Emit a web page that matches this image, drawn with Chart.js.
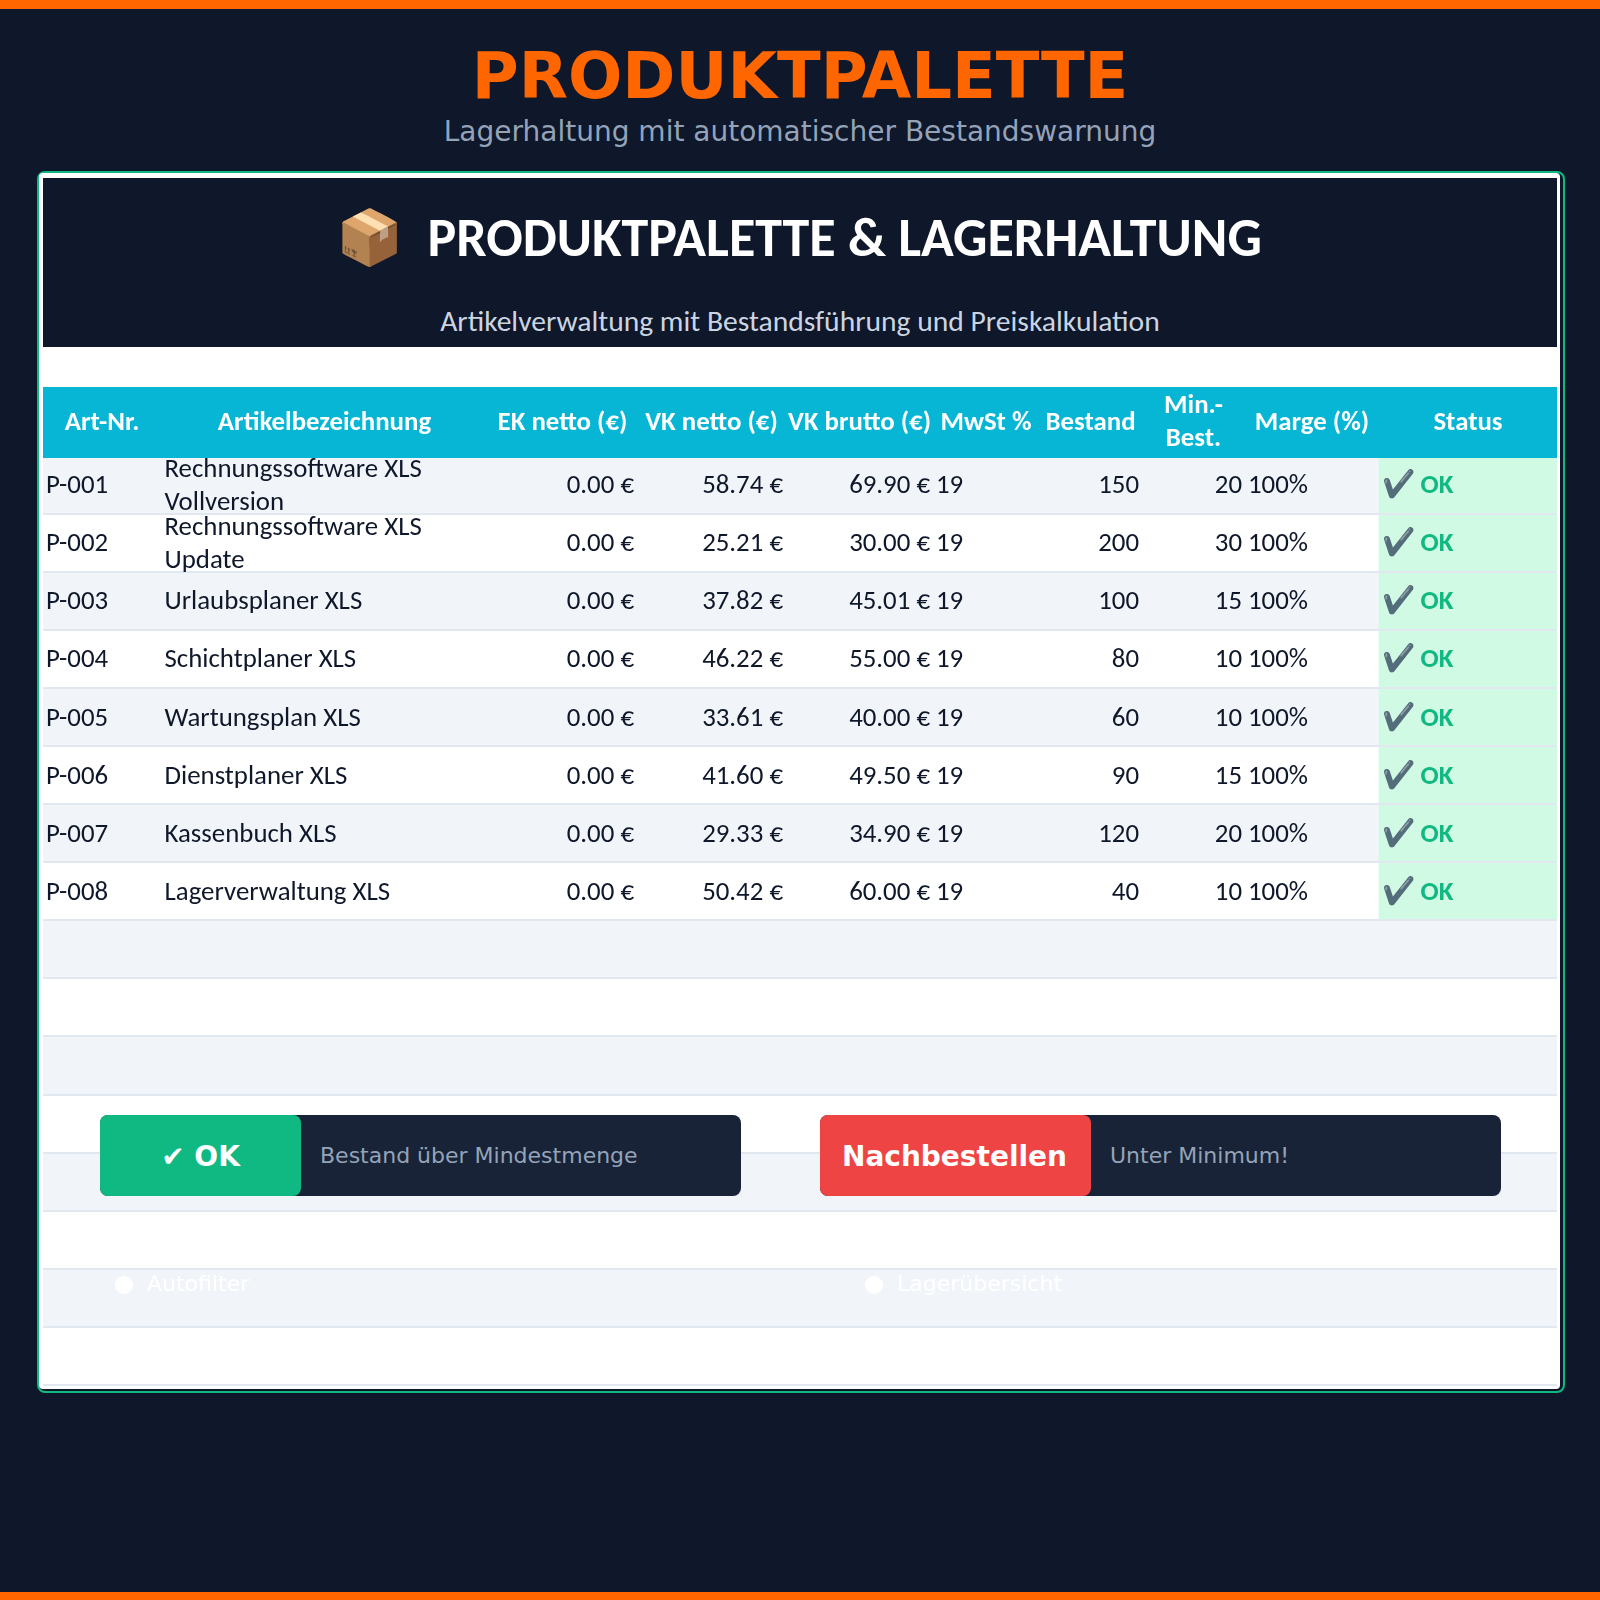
<!DOCTYPE html>
<html lang="de">
<head>
<meta charset="utf-8">
<title>Produktpalette</title>
<style>
    html, body { margin: 0; padding: 0; width: 1600px; height: 1600px; overflow: hidden; background: #0f172a; }
    .abs { position: absolute; }
    .bar { left: 0; width: 1600px; height: 9px; background: #ff6600; }
    .center { left: 0; width: 1600px; text-align: center; white-space: pre; }
    #title { top: 38px; font: bold 64px/76px "DejaVu Sans", sans-serif; color: #ff6600; }
    #subtitle { top: 114px; font: 28px/36px "DejaVu Sans", sans-serif; color: #94a3b8; }
    #frame { left: 37px; top: 171px; width: 1523.5px; height: 1218px; border: 2px solid #10b981; border-radius: 8px; background: #0f172a; overflow: hidden; }
    #sheet { left: 39px; top: 173px; width: 1521px; height: 1216px; background: #fff; border-radius: 4px; }
    #banner { left: 43px; top: 178px; width: 1514px; height: 169px; background: #0f172a; }
    #sheetTitle { left: -1px; top: 206px; font: bold 54px/64px Carlito, Lato, sans-serif; color: #fff; }
    #sheetSub { top: 303px; font: 29.6px/36px Carlito, Lato, sans-serif; color: #cbd5e1; }
    #tableCanvas { left: 43px; top: 387px; }
    .legend { top: 1115px; height: 81px; background: #182337; border-radius: 8px; display: flex; align-items: center; }
    .badge { height: 81px; border-radius: 8px; text-align: center; color: #fff; font: bold 28px/83px "DejaVu Sans", sans-serif; flex: none; box-sizing: border-box; }
    .hint { margin-left: 19px; font: 22px "DejaVu Sans", sans-serif; color: #94a3b8; }
    .note { top: 1269px; font: 22px/30px "DejaVu Sans", sans-serif; color: #fff; }
    .dot { top: 1276px; width: 18px; height: 18px; border-radius: 50%; background: #fff; }
</style>
</head>
<body>
<div class="abs bar" style="top:0"></div>
<div class="abs bar" style="top:1592px;height:8px"></div>
<div class="abs center" id="title">PRODUKTPALETTE</div>
<div class="abs center" id="subtitle">Lagerhaltung mit automatischer Bestandswarnung</div>

<div class="abs" id="frame"></div>
<div class="abs" id="sheet"></div>
<div class="abs" id="banner"></div>
<div class="abs center" id="sheetTitle">📦  PRODUKTPALETTE &amp; LAGERHALTUNG</div>
<div class="abs center" id="sheetSub">Artikelverwaltung mit Bestandsführung und Preiskalkulation</div>

<canvas class="abs" id="tableCanvas" width="1514" height="1001"></canvas>

<div class="abs legend" style="left:100px;width:640.5px">
    <div class="badge" style="width:201px;background:#10b981">✔ OK</div>
    <div class="hint">Bestand über Mindestmenge</div>
</div>
<div class="abs legend" style="left:820px;width:681px">
    <div class="badge" style="width:271px;padding-right:2px;background:#ef4444">Nachbestellen</div>
    <div class="hint">Unter Minimum!</div>
</div>
<div class="abs dot" style="left:115px"></div>
<div class="abs note" style="left:147px">Autofilter</div>
<div class="abs dot" style="left:865px"></div>
<div class="abs note" style="left:897px">Lagerübersicht</div>

<script src="https://cdn.jsdelivr.net/npm/chart.js@4"></script>
<script>
// Tabellendaten
const articleNumbers = ['P-001', 'P-002', 'P-003', 'P-004', 'P-005', 'P-006', 'P-007', 'P-008'];
const articleNames = [
    ['Rechnungssoftware XLS', 'Vollversion'],
    ['Rechnungssoftware XLS', 'Update'],
    ['Urlaubsplaner XLS'],
    ['Schichtplaner XLS'],
    ['Wartungsplan XLS'],
    ['Dienstplaner XLS'],
    ['Kassenbuch XLS'],
    ['Lagerverwaltung XLS']
];
const ekNetto = [0, 0, 0, 0, 0, 0, 0, 0];
const vkNetto = [58.74, 25.21, 37.82, 46.22, 33.61, 41.60, 29.33, 50.42];
const vkBrutto = [69.90, 30.00, 45.01, 55.00, 40.00, 49.50, 34.90, 60.00];
const mwst = [19, 19, 19, 19, 19, 19, 19, 19];
const bestand = [150, 200, 100, 80, 60, 90, 120, 40];
const minBestand = [20, 30, 15, 10, 10, 15, 20, 10];
const marge = [100, 100, 100, 100, 100, 100, 100, 100];
const statusText = ['OK', 'OK', 'OK', 'OK', 'OK', 'OK', 'OK', 'OK'];
const headers = ['Art-Nr.', 'Artikelbezeichnung', 'EK netto (€)', 'VK netto (€)', 'VK brutto (€)', 'MwSt %', 'Bestand', ['Min.-', 'Best.'], 'Marge (%)', 'Status'];
const emptyRowCount = 8;

// Spaltengrenzen in Seitenpixeln
const columnEdges = [43, 161, 488, 637, 786, 933, 1039, 1142, 1245, 1379, 1557];

const TABLE_FONT = 'Carlito, Lato, sans-serif';
const BODY_SIZE = 26.85;
const TEXT_SHIFT = 2;
const rowLabels = articleNumbers.concat(Array(emptyRowCount).fill(''));
const columnCenters = columnEdges.slice(0, -1).map((edge, i) => (edge + columnEdges[i + 1]) / 2);

// Zelltexte werden ueber die Skalen positioniert
const cellTextPlugin = {
    id: 'cellText',
    afterDraw(chart) {
        const { ctx, scales: { x, y } } = chart;
        const rightCols = [[2, ekNetto, v => v.toFixed(2) + ' €'], [3, vkNetto, v => v.toFixed(2) + ' €'], [4, vkBrutto, v => v.toFixed(2) + ' €'], [6, bestand, String], [7, minBestand, String]];
        const leftCols = [[5, mwst, String], [8, marge, v => v + '%']];
        ctx.save();
        ctx.textBaseline = 'middle';
        ctx.font = BODY_SIZE + 'px ' + TABLE_FONT;
        ctx.fillStyle = '#0f172a';

        articleNames.forEach((lines, row) => {
            const cy = y.getPixelForValue(row) + TEXT_SHIFT;
            ctx.textAlign = 'left';
            lines.forEach((line, i) => {
                ctx.fillText(line, x.getPixelForValue(columnEdges[1]) + 3.5, cy + (i - (lines.length - 1) / 2) * 33);
            });
            leftCols.forEach(([col, values, fmt]) => {
                ctx.fillText(fmt(values[row]), x.getPixelForValue(columnEdges[col]) + 3, cy);
            });
            ctx.textAlign = 'right';
            rightCols.forEach(([col, values, fmt]) => {
                ctx.fillText(fmt(values[row]), x.getPixelForValue(columnEdges[col + 1]) - 3, cy);
            });
        });

        // Statusspalte
        ctx.textAlign = 'left';
        ctx.font = 'bold ' + BODY_SIZE + 'px ' + TABLE_FONT;
        ctx.fillStyle = '#10b981';
        statusText.forEach((text, row) => {
            ctx.fillText('✔️ ' + text, x.getPixelForValue(columnEdges[9]) + 2.5, y.getPixelForValue(row) + TEXT_SHIFT);
        });
        ctx.restore();
    }
};

new Chart(document.getElementById('tableCanvas'), {
    type: 'bar',
    data: {
        labels: rowLabels,
        datasets: [
            {
                label: 'Status',
                order: 0,
                data: statusText.map(() => [columnEdges[9], columnEdges[10]]),
                backgroundColor: '#d1fae5'
            },
            {
                label: 'Zeilen',
                order: 1,
                data: rowLabels.map(() => [columnEdges[0], columnEdges[10]]),
                backgroundColor: rowLabels.map((_, i) => (i % 2 === 0 ? '#f1f5f9' : '#ffffff'))
            }
        ]
    },
    plugins: [cellTextPlugin],
    options: {
        indexAxis: 'y',
        responsive: false,
        animation: false,
        events: [],
        devicePixelRatio: 1,
        layout: { padding: { bottom: 3 } },
        datasets: { bar: { grouped: false, barPercentage: 1, categoryPercentage: 1 } },
        plugins: { legend: { display: false }, tooltip: { enabled: false } },
        scales: {
            x: {
                type: 'linear',
                position: 'top',
                min: columnEdges[0],
                max: columnEdges[10],
                backgroundColor: '#06b6d4',
                border: { color: '#06b6d4', width: 5, z: 2 },
                grid: { display: false, z: 2, drawTicks: false },
                afterBuildTicks(scale) {
                    scale.ticks = columnCenters.map(value => ({ value }));
                },
                afterFit(scale) {
                    scale.height = 68.4;
                    scale.paddingLeft = 0;
                    scale.paddingRight = 0;
                },
                ticks: {
                    z: 3,
                    autoSkip: false,
                    maxRotation: 0,
                    minRotation: 0,
                    crossAlign: 'center',
                    padding: 16,
                    color: '#ffffff',
                    font: { family: TABLE_FONT, size: BODY_SIZE, weight: 'bold', lineHeight: 33 / BODY_SIZE },
                    callback: (value, index) => headers[index]
                }
            },
            y: {
                type: 'category',
                border: { display: false },
                grid: { offset: true, z: 1, color: '#e2e8f0', lineWidth: 2, drawTicks: false },
                afterFit(scale) {
                    scale.width = 0;
                    scale.paddingTop = 0;
                    scale.paddingBottom = 0;
                },
                ticks: {
                    z: 1,
                    mirror: true,
                    padding: 3,
                    labelOffset: TEXT_SHIFT,
                    autoSkip: false,
                    color: '#0f172a',
                    font: { family: TABLE_FONT, size: BODY_SIZE }
                }
            }
        }
    }
});
</script>
</body>
</html>
